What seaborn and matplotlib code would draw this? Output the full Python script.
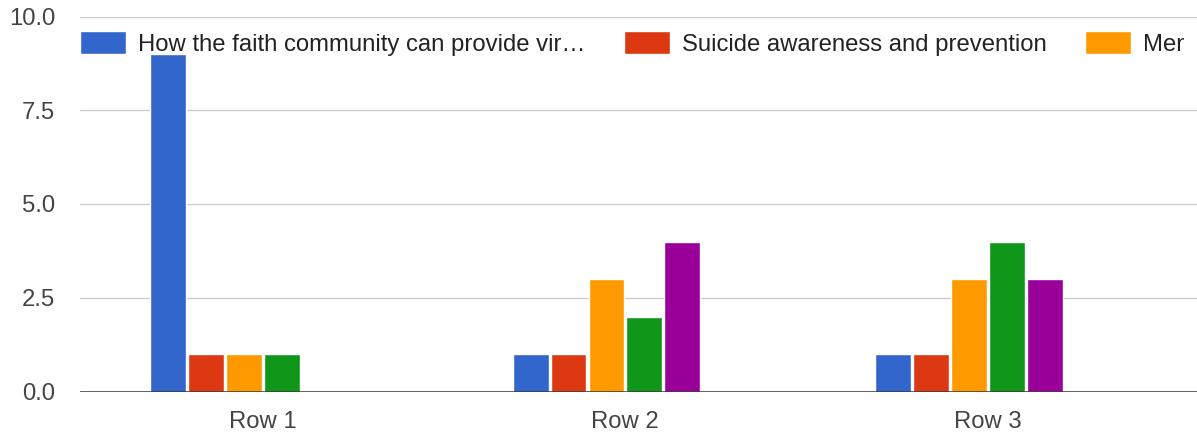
import matplotlib
matplotlib.use("Agg")
import matplotlib.pyplot as plt
import numpy as np
import pandas as pd
import seaborn as sns
from matplotlib.transforms import Bbox


ROWS = ["Row 1", "Row 2", "Row 3"]
SERIES = [
    "How the faith community can provide vir…",
    "Suicide awareness and prevention",
    "Mental health",
    "Series 4",
    "Series 5",
]
COLORS = ["#3366cc", "#dc3912", "#ff9900", "#109618", "#990099"]

# one list per series, values for Row 1, Row 2, Row 3
FAITH = [9, 1, 1]
SUICIDE = [1, 1, 1]
MENTAL = [1, 3, 3]
SERIES_4 = [1, 2, 4]
SERIES_5 = [0, 4, 3]

Y_TICKS = [0, 2.5, 5, 7.5, 10]
Y_TICK_LABELS = ["0.0", "2.5", "5.0", "7.5", "10.0"]

FONT_SIZE = 17.2


def build_frame() -> pd.DataFrame:
    values = [FAITH, SUICIDE, MENTAL, SERIES_4, SERIES_5]
    records = []
    for name, vals in zip(SERIES, values):
        for row, v in zip(ROWS, vals):
            records.append({"row": row, "series": name, "value": v})
    return pd.DataFrame(records)


def main() -> None:
    sns.set_theme(style="white")
    plt.rcParams["font.family"] = ["Liberation Sans", "DejaVu Sans"]

    df = build_frame()
    fig = plt.figure(figsize=(11.97, 4.34), dpi=100)
    ax = fig.add_axes([80 / 1197, 42.5 / 434, 1 - 80 / 1197, 375 / 434])

    sns.barplot(
        data=df,
        x="row",
        y="value",
        hue="series",
        hue_order=SERIES,
        order=ROWS,
        palette=COLORS,
        width=0.524,
        gap=0.053,
        saturation=1,
        errorbar=None,
        legend=True,
        ax=ax,
        zorder=3,
    )

    ax.set_ylim(0, 10)
    ax.set_xlim(-0.4524, 2.629)
    ax.set_yticks(Y_TICKS, Y_TICK_LABELS)
    ax.set_xticks(np.arange(len(ROWS)) + 0.051, ROWS)
    ax.tick_params(axis="both", length=0, labelsize=FONT_SIZE, labelcolor="#444444")
    ax.tick_params(axis="y", pad=18)
    ax.tick_params(axis="x", pad=14)
    ax.set_xlabel("")
    ax.set_ylabel("")
    for spine in ax.spines.values():
        spine.set_visible(False)

    for y in Y_TICKS[1:]:
        ax.axhline(y, color="#cccccc", lw=1.0, zorder=1)
    ax.axhline(0, color="#333333", lw=1.8, zorder=4)

    handles, labels = ax.get_legend_handles_labels()
    leg = ax.legend(
        handles[:3],
        labels[:3],
        loc="upper left",
        bbox_to_anchor=(80 / 1197, 1 - 31 / 434),
        bbox_transform=fig.transFigure,
        ncol=3,
        frameon=False,
        fontsize=FONT_SIZE,
        handlelength=1.93,
        handleheight=1.1,
        handletextpad=0.5,
        columnspacing=1.6,
        borderpad=0,
        borderaxespad=0,
        labelcolor="#222222",
    )
    # the legend runs past the chart width, so its last label is cut short
    last = leg.get_texts()[2]
    last.set_clip_box(Bbox([[0, 0], [1184, 434]]))
    last.set_clip_on(True)

    fig.savefig("out.png", dpi=100)
    plt.close(fig)


if __name__ == "__main__":
    main()
